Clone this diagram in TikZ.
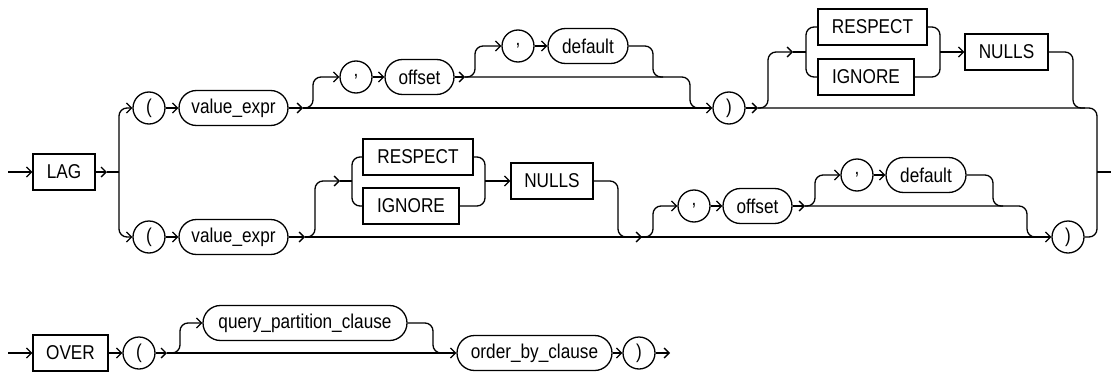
\documentclass[tikz,border=0pt]{standalone}
\usepackage{fontspec}
\setmainfont{Liberation Sans}[FakeStretch=0.86]
\usetikzlibrary{arrows.meta}
\begin{document}
\begin{tikzpicture}[x=1pt,y=-1pt, line width=1.3pt,
  every node/.style={font=\fontsize{20}{22}\selectfont, inner sep=0pt},
  kw/.style={draw, rectangle, minimum height=36pt},
  nt/.style={draw, rounded corners=17.5pt, minimum height=35pt},
  pc/.style={draw, circle, minimum size=32pt},
  arr/.style={-{Straight Barb[length=5pt,width=10pt]}},
  rc/.style={rounded corners=8pt}]
\useasboundingbox (0,0) rectangle (1111,372);
% ---------- top LAG form ----------
\node[kw, minimum width=62pt] (lag) at (64,172) {LAG};
\node[pc] (p1) at (149,108) {(};
\node[nt, minimum width=109pt] (ve1) at (233.5,108) {value\_expr};
\node[pc] (c1) at (356,77) {,};
\node[nt, minimum width=69pt] (off1) at (419.5,77) {offset};
\node[pc] (c2) at (518,46) {,};
\node[nt, minimum width=80pt] (def1) at (588,46) {default};
\node[pc] (rp1) at (729,108) {)};
\node[kw, minimum width=109pt] (resp1) at (872.5,27) {RESPECT};
\node[kw, minimum width=96pt] (ign1) at (866,77) {IGNORE};
\node[kw, minimum width=83pt] (nul1) at (1006.5,52) {NULLS};
% ---------- bottom LAG form ----------
\node[pc] (p2) at (149,237) {(};
\node[nt, minimum width=109pt] (ve2) at (233.5,237) {value\_expr};
\node[kw, minimum width=110pt] (resp2) at (418,157) {RESPECT};
\node[kw, minimum width=96pt] (ign2) at (411,206) {IGNORE};
\node[kw, minimum width=82pt] (nul2) at (552,181) {NULLS};
\node[pc] (c3) at (694,206) {,};
\node[nt, minimum width=69pt] (off2) at (757.5,206) {offset};
\node[pc] (c4) at (857,175) {,};
\node[nt, minimum width=80pt] (def2) at (926,175) {default};
\node[pc] (rp2) at (1068,237) {)};
% ---------- OVER ----------
\node[kw, minimum width=75pt] (over) at (70.5,353) {OVER};
\node[pc] (p3) at (139,353) {(};
\node[nt, minimum width=204pt] (qpc) at (305,323) {query\_partition\_clause};
\node[nt, minimum width=155pt] (obc) at (534.5,353) {order\_by\_clause};
\node[pc] (rp3) at (639,353) {)};
% ---------- coordinates ----------
\coordinate (in1) at (8,172);
\coordinate (a1) at (107,172);
\coordinate (b1) at (119,172);
\coordinate (a2) at (303,108);
\coordinate (a3) at (465,77);
\coordinate (m2) at (700,108);
\coordinate (m3) at (663,77);
\coordinate (a4) at (758,108);
\coordinate (g1) at (793,52);
\coordinate (g1e) at (806,52);
\coordinate (j1) at (940,52);
\coordinate (m4) at (1085,108);
\coordinate (v1) at (1097,172);
\coordinate (out1) at (1111,172);
\coordinate (b2) at (305,237);
\coordinate (g2) at (340,181);
\coordinate (g2e) at (352,181);
\coordinate (j2) at (485,181);
\coordinate (b3) at (642,237);
\coordinate (b4) at (805,206);
\coordinate (m5) at (1040,237);
\coordinate (m6) at (1003,206);
\coordinate (in2) at (8,353);
\coordinate (c5) at (167,353);
\coordinate (m7) at (447,353);
\coordinate (out2) at (670,353);
% ---------- connectors: LAG ----------
\draw[arr] (in1) -- (lag);
\draw[arr] (lag) -- (a1);
\draw (a1) -- (b1);
\draw[arr, rc] (b1) -- (b1 |- p1) -- (p1);
\draw[arr, rc] (b1) -- (b1 |- p2) -- (p2);
% top form
\draw[arr] (p1) -- (ve1);
\draw[arr] (ve1) -- (a2);
\draw[arr] (a2) -- (rp1);
\draw[arr, rc] (a2) -- (313,108) -- (313,77) -- (c1);
\draw[arr] (c1) -- (off1);
\draw[arr] (off1) -- (a3);
\draw[rc] (a3) -- (690,77) -- (690,108) -- (m2);
\draw[arr, rc] (a3) -- (475,77) -- (475,46) -- (c2);
\draw[arr] (c2) -- (def1);
\draw[rc] (def1) -- (653,46) -- (653,77) -- (m3);
\draw[arr] (rp1) -- (a4);
\draw[rc] (a4) -- (1097,108) -- (1097,237) -- (rp2);
\draw (v1) -- (out1);
\draw[arr, rc] (a4) -- (768,108) -- (768,52) -- (g1);
\draw (g1) -- (g1e);
\draw[rc] (resp1) -- (806,27) -- (806,77) -- (ign1);
\draw[rc] (resp1) -- (940,27) -- (940,77) -- (ign1);
\draw[arr] (j1) -- (nul1);
\draw[rc] (nul1) -- (1073,52) -- (1073,108) -- (m4);
% bottom form
\draw[arr] (p2) -- (ve2);
\draw[arr] (ve2) -- (b2);
\draw[arr] (b2) -- (rp2);
\draw[arr, rc] (b2) -- (315,237) -- (315,181) -- (g2);
\draw (g2) -- (g2e);
\draw[rc] (resp2) -- (352,157) -- (352,206) -- (ign2);
\draw[rc] (resp2) -- (485,157) -- (485,206) -- (ign2);
\draw[arr] (j2) -- (nul2);
\draw[arr, rc] (nul2) -- (618,181) -- (618,237) -- (b3);
\draw[arr, rc] (b3) -- (653,237) -- (653,206) -- (c3);
\draw[arr] (c3) -- (off2);
\draw[arr] (off2) -- (b4);
\draw[rc] (b4) -- (1027,206) -- (1027,237) -- (m5);
\draw[arr, rc] (b4) -- (815,206) -- (815,175) -- (c4);
\draw[arr] (c4) -- (def2);
\draw[rc] (def2) -- (993,175) -- (993,206) -- (m6);
% ---------- connectors: OVER ----------
\draw[arr] (in2) -- (over);
\draw[arr] (over) -- (p3);
\draw[arr] (p3) -- (c5);
\draw[arr] (c5) -- (obc);
\draw[arr, rc] (c5) -- (180,353) -- (180,323) -- (qpc);
\draw[rc] (qpc) -- (433,323) -- (433,353) -- (m7);
\draw[arr] (obc) -- (rp3);
\draw[arr] (rp3) -- (out2);
\end{tikzpicture}
\end{document}
